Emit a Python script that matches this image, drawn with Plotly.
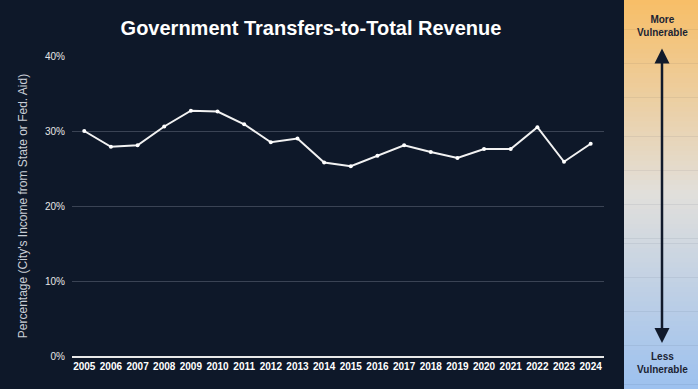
import plotly.graph_objects as go

years = [str(y) for y in range(2005, 2025)]
values = [30.0, 27.9, 28.1, 30.6, 32.7, 32.6, 30.9, 28.5, 29.0, 25.8,
          25.3, 26.7, 28.1, 27.2, 26.4, 27.6, 27.6, 30.5, 25.9, 28.3]
y_ticks = [0, 10, 20, 30, 40]
y_tick_text = ["0%", "10%", "20%", "30%", "40%"]

BG = "#0e1829"
W, H = 698, 389
ML, MR, MT, MB = 72, 94, 56, 33
PW = W - ML - MR
PH = H - MT - MB


def px_to_paper_x(px):
    return (px - ML) / PW


def px_to_paper_y(py):
    return (H - MB - py) / PH


fig = go.Figure()
fig.add_trace(go.Scatter(
    x=years, y=values, mode="lines+markers",
    line=dict(color="#f2f2f2", width=2),
    marker=dict(color="#ffffff", size=4),
    hoverinfo="skip", showlegend=False,
))

# gradient panel on the right
def lerp(c1, c2, t):
    return tuple(round(a + (b - a) * t) for a, b in zip(c1, c2))

top = (247, 190, 104)
mid = (225, 223, 219)
bot = (157, 193, 239)
n = 80
shapes = []
x0 = px_to_paper_x(624)
x1 = px_to_paper_x(W + 2)
for i in range(n):
    t = i / (n - 1)
    if t < 0.5:
        c = lerp(top, mid, t / 0.5)
    else:
        c = lerp(mid, bot, (t - 0.5) / 0.5)
    ya = i * H / n
    yb = (i + 1) * H / n + 0.6
    shapes.append(dict(
        type="rect", xref="paper", yref="paper",
        x0=x0, x1=x1, y0=px_to_paper_y(yb), y1=px_to_paper_y(ya),
        fillcolor="rgb(%d,%d,%d)" % c, line=dict(width=0), layer="below",
    ))

arrow_x = px_to_paper_x(662)
annotations = [
    dict(x=arrow_x, y=px_to_paper_y(343), xref="paper", yref="paper",
         ax=0, ay=-296, axref="pixel", ayref="pixel",
         showarrow=True, arrowside="end+start", arrowhead=2,
         arrowsize=1.2, arrowwidth=2.5, arrowcolor="#111a2b", text=""),
    dict(x=arrow_x, y=px_to_paper_y(26), xref="paper", yref="paper",
         xanchor="center", yanchor="middle",
         text="<b>More<br>Vulnerable</b>", showarrow=False,
         font=dict(family="Liberation Sans, Arial", size=10, color="#1b2333"),
         align="center"),
    dict(x=arrow_x, y=px_to_paper_y(363), xref="paper", yref="paper",
         xanchor="center", yanchor="middle",
         text="<b>Less<br>Vulnerable</b>", showarrow=False,
         font=dict(family="Liberation Sans, Arial", size=10, color="#1b2333"),
         align="center"),
]

fig.update_layout(
    width=W, height=H,
    paper_bgcolor=BG, plot_bgcolor=BG,
    margin=dict(l=ML, r=MR, t=MT, b=MB, autoexpand=False),
    title=dict(text="<b>Government Transfers-to-Total Revenue</b>",
               x=311 / W, xanchor="center", y=1 - 28 / H, yanchor="middle",
               font=dict(family="Liberation Sans, Arial", size=20, color="#ffffff")),
    shapes=shapes,
    annotations=annotations,
    xaxis=dict(type="category", range=[-0.46, 19.5],
               showgrid=False, showline=True, automargin=False,
               linecolor="#e8e8e8", linewidth=1.5, ticks="",
               tickfont=dict(family="Liberation Sans, Arial", size=10, color="#ffffff"),
               tickprefix="<b>", ticksuffix="</b>", fixedrange=True),
    yaxis=dict(range=[0, 40], tickvals=y_ticks, ticktext=y_tick_text,
               showgrid=True, gridcolor="#3a4354", gridwidth=1, automargin=False,
               zeroline=False, ticks="", ticklabelstandoff=6,
               tickfont=dict(family="Liberation Sans, Arial", size=10, color="#e6e6e6"),
               title=dict(text="Percentage (City's Income from State or Fed. Aid)",
                          font=dict(family="Liberation Sans, Arial", size=12, color="#c9ced6"),
                          standoff=14),
               fixedrange=True),
)

fig.write_html("out.html", config={"displayModeBar": False},
               post_script="document.body.style.margin='0px';document.body.style.overflow='hidden';")
